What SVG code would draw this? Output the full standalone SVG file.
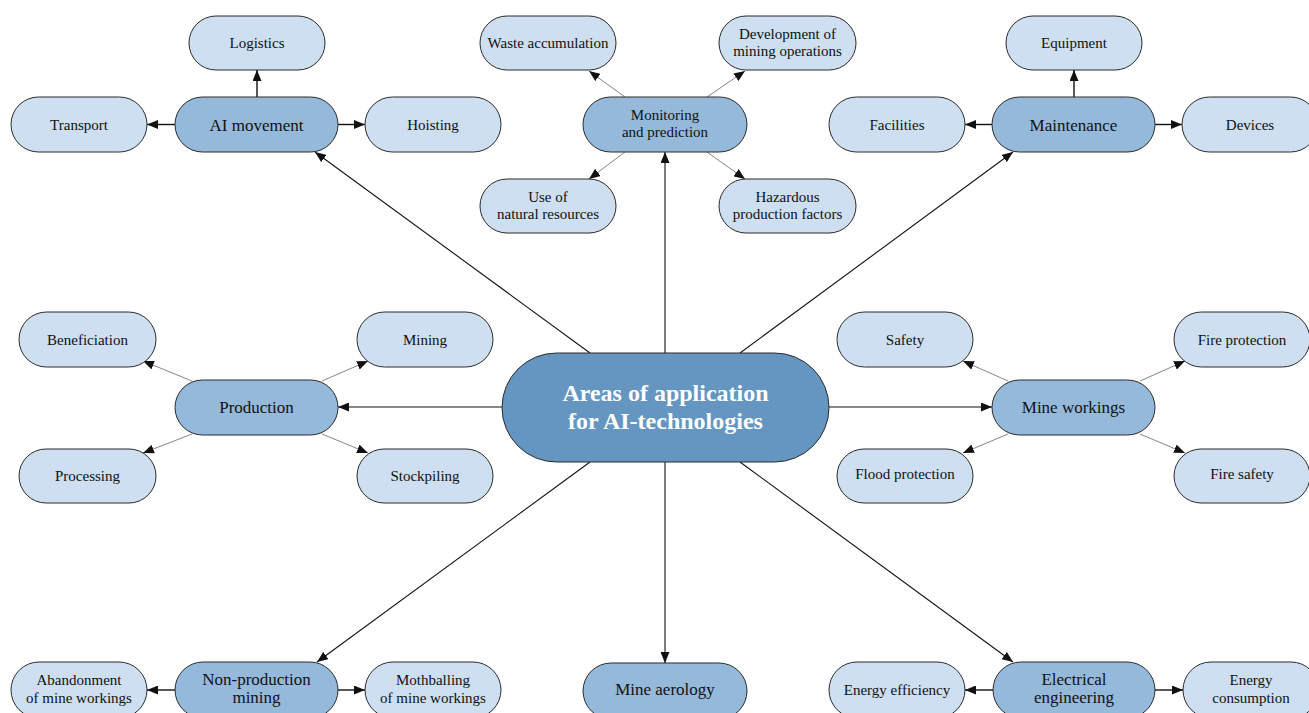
<svg xmlns="http://www.w3.org/2000/svg" width="1309" height="713" viewBox="0 0 1309 713">
  <style>
    .leaf rect { fill: #cddff0; stroke: #2b2b2b; stroke-width: 1; }
    .mid rect { fill: #95b9da; stroke: #2b2b2b; stroke-width: 1; }
    .root rect { fill: #6496c1; stroke: #2b2b2b; stroke-width: 1; }
    text { font-family: "Liberation Serif", "Times New Roman", serif; fill: #111; text-anchor: middle; }
    .leaf text { font-size: 15px; }
    .mid text { font-size: 17px; }
    .mid text.small { font-size: 15px; }
    .root text { font-size: 24px; font-weight: bold; fill: #ffffff; }
    .main { stroke: #111; stroke-width: 1.1; fill: none; marker-end: url(#arrow); }
    .side { stroke: #111; stroke-width: 1.4; fill: none; marker-end: url(#arrow); }
    .diag { stroke: #777; stroke-width: 0.9; fill: none; marker-end: url(#arrow); }
  </style>
  <defs>
    <marker id="arrow" markerUnits="userSpaceOnUse" markerWidth="11" markerHeight="9" refX="11" refY="4.5" orient="auto">
      <path d="M0,0 L11,4.5 L0,9 z" fill="#111"/>
    </marker>
  </defs>

  <rect width="1309" height="713" fill="#ffffff"/>

  <!-- connectors -->
  <g id="connectors">
    <!-- from the central node -->
    <line class="main" x1="590" y1="353" x2="315" y2="152"/>
    <line class="main" x1="665" y1="353" x2="665" y2="152"/>
    <line class="main" x1="740" y1="353" x2="1013" y2="152"/>
    <line class="main" x1="502" y1="407" x2="338" y2="407"/>
    <line class="main" x1="829" y1="407" x2="992" y2="407"/>
    <line class="main" x1="590" y1="462" x2="317" y2="662"/>
    <line class="main" x1="665" y1="462" x2="665" y2="663"/>
    <line class="main" x1="740" y1="462" x2="1013" y2="662"/>

    <!-- AI movement -->
    <line class="side" x1="257" y1="97" x2="257" y2="70"/>
    <line class="side" x1="175" y1="124.5" x2="147" y2="124.5"/>
    <line class="side" x1="338" y1="124.5" x2="365" y2="124.5"/>

    <!-- Monitoring and prediction -->
    <line class="diag" x1="625" y1="97" x2="589" y2="71"/>
    <line class="diag" x1="707" y1="97" x2="745" y2="71"/>
    <line class="diag" x1="625" y1="152" x2="589" y2="179"/>
    <line class="diag" x1="707" y1="152" x2="745" y2="179"/>

    <!-- Maintenance -->
    <line class="side" x1="1074" y1="97" x2="1074" y2="70"/>
    <line class="side" x1="992" y1="124.5" x2="965" y2="124.5"/>
    <line class="side" x1="1155" y1="124.5" x2="1182" y2="124.5"/>

    <!-- Production -->
    <line class="diag" x1="192" y1="381" x2="143" y2="361"/>
    <line class="diag" x1="322" y1="381" x2="368" y2="361"/>
    <line class="diag" x1="192" y1="434" x2="143" y2="453"/>
    <line class="diag" x1="322" y1="434" x2="368" y2="453"/>

    <!-- Mine workings -->
    <line class="diag" x1="1008" y1="381" x2="963" y2="361"/>
    <line class="diag" x1="1140" y1="381" x2="1185" y2="361"/>
    <line class="diag" x1="1008" y1="434" x2="963" y2="453"/>
    <line class="diag" x1="1140" y1="434" x2="1185" y2="453"/>

    <!-- Non-production mining -->
    <line class="side" x1="175" y1="690" x2="147" y2="690"/>
    <line class="side" x1="338" y1="690" x2="365" y2="690"/>

    <!-- Electrical engineering -->
    <line class="side" x1="993" y1="690" x2="965" y2="690"/>
    <line class="side" x1="1155" y1="690" x2="1183" y2="690"/>
  </g>

  <!-- central node -->
  <g id="root" class="root">
    <rect x="502" y="353" width="327" height="109" rx="54.5"/>
    <text x="665.5" y="401">Areas of application</text>
    <text x="665.5" y="429">for AI-technologies</text>
  </g>

  <!-- AI movement branch -->
  <g id="ai-movement" class="mid">
    <rect x="175" y="97" width="163" height="55" rx="27.5"/>
    <text x="256.5" y="130.5">AI movement</text>
  </g>
  <g id="logistics" class="leaf">
    <rect x="189" y="16" width="136" height="54" rx="27"/>
    <text x="257" y="48">Logistics</text>
  </g>
  <g id="transport" class="leaf">
    <rect x="11" y="97" width="136" height="55" rx="27.5"/>
    <text x="79" y="130">Transport</text>
  </g>
  <g id="hoisting" class="leaf">
    <rect x="365" y="97" width="136" height="55" rx="27.5"/>
    <text x="433" y="130">Hoisting</text>
  </g>

  <!-- Monitoring and prediction branch -->
  <g id="monitoring" class="mid">
    <rect x="583" y="97" width="164" height="55" rx="27.5"/>
    <text class="small" x="665" y="119.5">Monitoring</text>
    <text class="small" x="665" y="137">and prediction</text>
  </g>
  <g id="waste-accumulation" class="leaf">
    <rect x="480" y="16" width="136" height="54" rx="27"/>
    <text x="548" y="48">Waste accumulation</text>
  </g>
  <g id="development" class="leaf">
    <rect x="719" y="16" width="137" height="54" rx="27"/>
    <text x="787.5" y="39">Development of</text>
    <text x="787.5" y="56">mining operations</text>
  </g>
  <g id="natural-resources" class="leaf">
    <rect x="480" y="179" width="136" height="54" rx="27"/>
    <text x="548" y="202">Use of</text>
    <text x="548" y="219">natural resources</text>
  </g>
  <g id="hazardous-factors" class="leaf">
    <rect x="719" y="179" width="137" height="54" rx="27"/>
    <text x="787.5" y="202">Hazardous</text>
    <text x="787.5" y="219">production factors</text>
  </g>

  <!-- Maintenance branch -->
  <g id="maintenance" class="mid">
    <rect x="992" y="97" width="163" height="55" rx="27.5"/>
    <text x="1073.5" y="130.5">Maintenance</text>
  </g>
  <g id="equipment" class="leaf">
    <rect x="1006" y="16" width="136" height="54" rx="27"/>
    <text x="1074" y="48">Equipment</text>
  </g>
  <g id="facilities" class="leaf">
    <rect x="829" y="97" width="136" height="55" rx="27.5"/>
    <text x="897" y="130">Facilities</text>
  </g>
  <g id="devices" class="leaf">
    <rect x="1182" y="97" width="136" height="55" rx="27.5"/>
    <text x="1250" y="130">Devices</text>
  </g>

  <!-- Production branch -->
  <g id="production" class="mid">
    <rect x="175" y="380" width="163" height="55" rx="27.5"/>
    <text x="256.5" y="413">Production</text>
  </g>
  <g id="beneficiation" class="leaf">
    <rect x="19" y="312" width="137" height="55" rx="27.5"/>
    <text x="87.5" y="345">Beneficiation</text>
  </g>
  <g id="mining" class="leaf">
    <rect x="357" y="312" width="136" height="55" rx="27.5"/>
    <text x="425" y="345">Mining</text>
  </g>
  <g id="processing" class="leaf">
    <rect x="19" y="449" width="137" height="54" rx="27"/>
    <text x="87.5" y="481">Processing</text>
  </g>
  <g id="stockpiling" class="leaf">
    <rect x="357" y="449" width="136" height="54" rx="27"/>
    <text x="425" y="481">Stockpiling</text>
  </g>

  <!-- Mine workings branch -->
  <g id="mine-workings" class="mid">
    <rect x="992" y="380" width="163" height="55" rx="27.5"/>
    <text x="1073.5" y="413">Mine workings</text>
  </g>
  <g id="safety" class="leaf">
    <rect x="837" y="312" width="136" height="55" rx="27.5"/>
    <text x="905" y="345">Safety</text>
  </g>
  <g id="fire-protection" class="leaf">
    <rect x="1174" y="312" width="136" height="55" rx="27.5"/>
    <text x="1242" y="345">Fire protection</text>
  </g>
  <g id="flood-protection" class="leaf">
    <rect x="837" y="449" width="136" height="54" rx="27"/>
    <text x="905" y="479">Flood protection</text>
  </g>
  <g id="fire-safety" class="leaf">
    <rect x="1174" y="449" width="136" height="54" rx="27"/>
    <text x="1242" y="479">Fire safety</text>
  </g>

  <!-- Non-production mining branch -->
  <g id="non-production" class="mid">
    <rect x="175" y="662" width="163" height="56" rx="28"/>
    <text x="256.5" y="685">Non-production</text>
    <text x="256.5" y="703">mining</text>
  </g>
  <g id="abandonment" class="leaf">
    <rect x="11" y="662" width="136" height="56" rx="28"/>
    <text x="79" y="685">Abandonment</text>
    <text x="79" y="703">of mine workings</text>
  </g>
  <g id="mothballing" class="leaf">
    <rect x="365" y="662" width="136" height="56" rx="28"/>
    <text x="433" y="685">Mothballing</text>
    <text x="433" y="703">of mine workings</text>
  </g>

  <!-- Mine aerology -->
  <g id="mine-aerology" class="mid">
    <rect x="583" y="663" width="164" height="56" rx="28"/>
    <text x="665" y="695">Mine aerology</text>
  </g>

  <!-- Electrical engineering branch -->
  <g id="electrical" class="mid">
    <rect x="993" y="662" width="162" height="56" rx="28"/>
    <text x="1074" y="685">Electrical</text>
    <text x="1074" y="703">engineering</text>
  </g>
  <g id="energy-efficiency" class="leaf">
    <rect x="829" y="662" width="136" height="56" rx="28"/>
    <text x="897" y="695">Energy efficiency</text>
  </g>
  <g id="energy-consumption" class="leaf">
    <rect x="1183" y="662" width="136" height="56" rx="28"/>
    <text x="1251" y="685">Energy</text>
    <text x="1251" y="703">consumption</text>
  </g>
</svg>
